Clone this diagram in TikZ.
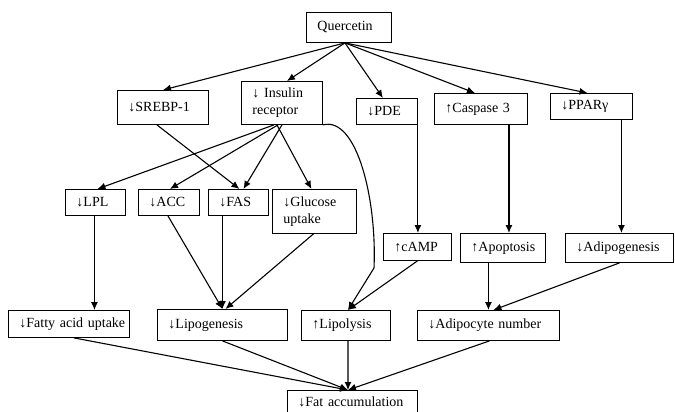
\documentclass[tikz,border=0pt]{standalone}
\usepackage{fontspec}
\setmainfont{Liberation Serif}
\usetikzlibrary{arrows.meta,calc}
\newcommand{\bx}[6]{%
  \pgfmathsetmacro{\bw}{#4-#2}\pgfmathsetmacro{\bh}{#5-#3}\pgfmathsetmacro{\tw}{#4-#2-22}%
  \node[box, minimum width=\bw pt, minimum height=\bh pt, text width=\tw pt, anchor=north west] (#1) at (#2,#3) {#6};}
\begin{document}
\begin{tikzpicture}[x=1pt,y=-1pt,
  box/.style={draw, line width=0.9pt, rectangle, inner xsep=11pt, inner ysep=0pt, align=left,
    font=\fontsize{14}{17}\selectfont},
  arr/.style={-{Latex[length=8pt,width=7pt]}, line width=1.1pt}]
\useasboundingbox (0,0) rectangle (675,412);
\bx{q}{306}{12}{391}{42}{Quercetin}
\bx{srebp}{117}{90}{208}{124}{\mbox{↓SREBP-1}}
\bx{ins}{241}{81}{322}{124}{\mbox{↓ Insulin}\\receptor}
\bx{pde}{356}{98}{417}{124}{↓PDE}
\bx{casp}{434}{93}{527}{124}{\mbox{↑Caspase 3}}
\bx{ppar}{550}{93}{632}{119}{↓PPARγ}
\bx{lpl}{65}{189}{125}{215}{↓LPL}
\bx{acc}{138}{189}{199}{215}{↓ACC}
\bx{fas}{208}{189}{268}{215}{↓FAS}
\bx{glu}{272}{189}{356}{233}{↓Glucose\\uptake}
\bx{camp}{383}{233}{451}{260}{↑cAMP}
\bx{apop}{460}{233}{545}{262}{↑Apoptosis}
\bx{adipg}{565}{233}{673}{262}{↓Adipogenesis}
\bx{fau}{8}{310}{129}{337}{\mbox{↓Fatty acid uptake}}
\bx{lipo}{157}{309}{287}{340}{↓Lipogenesis}
\bx{lipol}{301}{310}{390}{340}{↑Lipolysis}
\bx{adn}{417}{310}{559}{340}{\mbox{↓Adipocyte number}}
\bx{fat}{287}{390}{417}{413}{\mbox{↓Fat accumulation}}
% Quercetin fan
\coordinate (qs) at ($(q.south)+(-4,0)$);
\draw[arr] (qs) -- (srebp.north);
\draw[arr] (qs) -- ($(ins.north)+(5,0)$);
\draw[arr] (qs) -- ($(pde.north)+(-4,0)$);
\draw[arr] (qs) -- ($(casp.north)+(-6,0)$);
\draw[arr] (qs) -- ($(ppar.north)+(-4,0)$);
% insulin fan
\draw[arr] ($(ins.south)+(-8,0)$) -- ($(lpl.north)+(2,0)$);
\draw[arr] ($(ins.south)+(-4,0)$) -- ($(acc.north)+(1,0)$);
\draw[arr] (ins.south) -- ($(fas.north)+(5,0)$);
\draw[arr] ($(ins.south)+(-5,0)$) -- ($(glu.north)+(-3,0)$);
\draw[arr] ($(srebp.south)+(-6,0)$) -- ($(fas.north)+(1,0)$);
% verticals
\coordinate (c1) at ($(casp.south)+(28,0)$);
\coordinate (p1) at ($(ppar.south)+(30,0)$);
\coordinate (l1) at ($(lpl.south)+(-1,0)$);
\draw[arr] (pde.south east) -- (pde.south east |- camp.north);
\draw[arr] (c1) -- (c1 |- apop.north);
\draw[arr] (p1) -- (p1 |- adipg.north);
\draw[arr] (l1) -- (l1 |- fau.north);
% to lipogenesis
\draw[arr] ($(acc.south)+(-1,0)$) -- (lipo.north);
\draw[arr] (lipo.north |- fas.south) -- (lipo.north);
\draw[arr] ($(glu.south)+(-1,0)$) -- ($(lipo.north)+(3,0)$);
% to lipolysis
\draw[arr] (camp.south) -- ($(lipol.north)+(2,0)$);
\draw[arr] (ins.south east) .. controls (357,116) and (377,200) .. (374,268) -- ($(lipol.north)+(2,0)$);
% to adipocyte number
\draw[arr] (adn.north |- apop.south) -- (adn.north);
\draw[arr] (adipg.south) -- ($(adn.north)+(5,0)$);
% to fat accumulation
\coordinate (ft) at (348,390);
\draw[arr] ($(fau.south)+(5,0)$) -- (ft);
\draw[arr] (lipo.south) -- (ft);
\draw[arr] ($(lipol.south)+(2,0)$) -- (ft);
\draw[arr] ($(adn.south)+(1,0)$) -- (ft);
\end{tikzpicture}
\end{document}
